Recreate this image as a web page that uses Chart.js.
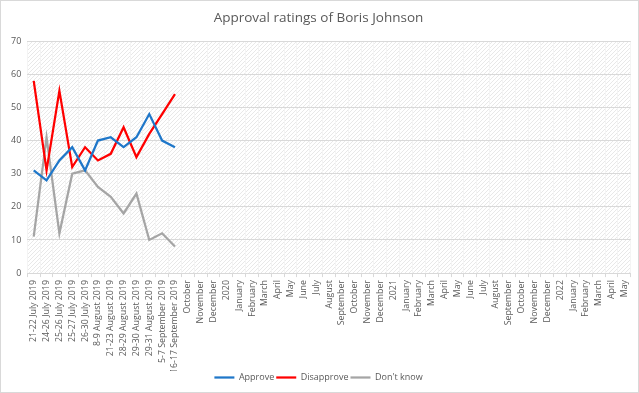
<!DOCTYPE html>
<html>
<head>
<meta charset="utf-8">
<script src="https://cdn.jsdelivr.net/npm/chart.js@4"></script>
<style>
  html, body { margin: 0; padding: 0; background: #fff; }
  #wrap { width: 637px; height: 391px; border: 1px solid #d9d9d9; }
</style>
</head>
<body>
<div id="wrap"><canvas id="lineChart" width="637" height="391"></canvas></div>
<script>
var categories = ["21-22 July 2019", "24-26 July 2019", "25-26 July 2019", "25-27 July 2019",
  "26-30 July 2019", "8-9 August 2019", "21-23 August 2019", "28-29 August 2019",
  "29-30 August 2019", "29-31 August 2019", "5-7 September 2019", "16-17 September 2019",
  "October", "November", "December", "2020",
  "January", "February", "March", "April", "May", "June", "July", "August",
  "September", "October", "November", "December", "2021",
  "January", "February", "March", "April", "May", "June", "July", "August",
  "September", "October", "November", "December", "2022",
  "January", "February", "March", "April", "May"];

var approve    = [31, 28, 34, 38, 31, 40, 41, 38, 41, 48, 40, 38];
var disapprove = [58, 31, 55, 32, 38, 34, 36, 44, 35, 42, 48, 54];
var dontKnow   = [11, 41, 12, 30, 31, 26, 23, 18, 24, 10, 12, 8];

var yTicks = [0, 10, 20, 30, 40, 50, 60, 70];

// hatch fill for the plot area
function makeHatch(){
  var c = document.createElement('canvas');
  c.width = 4; c.height = 4;
  var g = c.getContext('2d');
  g.fillStyle = '#ffffff';
  g.fillRect(0, 0, 4, 4);
  g.strokeStyle = '#e8e8e8';
  g.lineWidth = 1;
  g.beginPath();
  g.moveTo(0, 4); g.lineTo(4, 0);
  g.moveTo(-1, 1); g.lineTo(1, -1);
  g.moveTo(3, 5); g.lineTo(5, 3);
  g.stroke();
  return c;
}

var hatchPlugin = {
  id: 'hatch',
  beforeDraw: function(chart){
    var a = chart.chartArea;
    var ctx = chart.ctx;
    ctx.save();
    ctx.fillStyle = ctx.createPattern(makeHatch(), 'repeat');
    ctx.fillRect(a.left, a.top, a.right - a.left, a.bottom - a.top);
    ctx.restore();
  }
};

var font = "'Open Sans', 'Liberation Sans', sans-serif";

var ctxL = document.getElementById("lineChart").getContext('2d');
var myLineChart = new Chart(ctxL, {
  type: 'line',
  data: {
    labels: categories,
    datasets: [{
      label: "Approve",
      data: approve,
      borderColor: '#1f77c9',
      backgroundColor: '#1f77c9',
      borderWidth: 2.25,
      pointRadius: 0,
      tension: 0
    }, {
      label: "Disapprove",
      data: disapprove,
      borderColor: '#ff0000',
      backgroundColor: '#ff0000',
      borderWidth: 2.25,
      pointRadius: 0,
      tension: 0
    }, {
      label: "Don't know",
      data: dontKnow,
      borderColor: '#a5a5a5',
      backgroundColor: '#a5a5a5',
      borderWidth: 2.25,
      pointRadius: 0,
      tension: 0
    }]
  },
  options: {
    responsive: false,
    animation: false,
    layout: { padding: { left: 4, right: 6, top: 4, bottom: 0 } },
    plugins: {
      title: {
        display: true,
        text: 'Approval ratings of Boris Johnson',
        color: '#595959',
        font: { family: font, size: 13.5, weight: 'normal' },
        padding: { top: 5, bottom: 15 }
      },
      legend: {
        position: 'bottom',
        labels: {
          color: '#595959',
          font: { family: font, size: 9 },
          usePointStyle: true,
          pointStyle: 'line',
          pointStyleWidth: 20,
          boxHeight: 2,
          padding: 2
        }
      },
      tooltip: { enabled: false }
    },
    scales: {
      x: {
        offset: true,
        afterFit: function(axis){ axis.height -= 5; },
        grid: { color: '#f4f4f4', drawTicks: true, tickLength: 4, offset: true, tickColor: '#d9d9d9' },
        border: { color: '#d9d9d9' },
        ticks: {
          autoSkip: false,
          minRotation: 90,
          maxRotation: 90,
          color: '#595959',
          font: { family: font, size: 8.8 },
          padding: 3
        }
      },
      y: {
        min: 0,
        max: 70,
        afterBuildTicks: function(axis){
          axis.ticks = yTicks.map(function(v){ return { value: v }; });
        },
        grid: { color: '#d9d9d9', drawTicks: false },
        border: { display: false },
        ticks: {
          color: '#595959',
          font: { family: font, size: 9 },
          padding: 6
        }
      }
    }
  },
  plugins: [hatchPlugin]
});
</script>
</body>
</html>
